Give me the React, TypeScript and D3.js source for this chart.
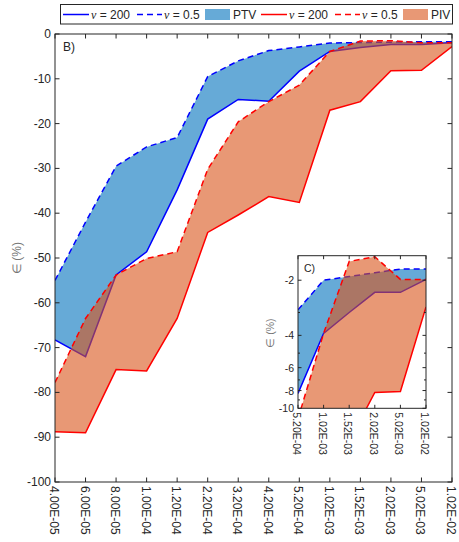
import React from 'react';
import * as d3 from 'd3';

const categories = ["4.00E-05","6.00E-05","8.00E-05","1.00E-04","1.20E-04","2.20E-04","3.20E-04","4.20E-04","5.20E-04","1.02E-03","1.52E-03","2.02E-03","5.02E-03","1.02E-02"];
const ptv200 = [-68.3,-72.0,-53.8,-48.6,-34.8,-19.0,-14.6,-15.0,-8.3,-3.9,-3.0,-2.33,-2.33,-1.98];
const ptv05 = [-55.0,-42.0,-29.5,-25.2,-23.1,-9.5,-6.0,-3.7,-2.9,-2.0,-1.91,-1.82,-1.74,-1.74];
const piv200 = [-88.8,-89.0,-74.9,-75.2,-63.5,-44.3,-40.4,-36.3,-37.6,-17.0,-15.1,-8.2,-8.1,-2.8];
const piv05 = [-77.8,-63.5,-53.8,-50.1,-48.6,-30.2,-19.6,-15.1,-11.4,-3.9,-1.58,-1.49,-1.98,-1.98];
const mainYTicks = [0,-10,-20,-30,-40,-50,-60,-70,-80,-90,-100];
const insetYTicks = [-2,-4,-6,-8,-10];
const insetMinor = [-3,-5,-7,-9];
const insetStart = 8;

const FONT = "'Liberation Sans', Arial, Helvetica, sans-serif";
const TXT = "#262626";
const BLUE_FILL = "rgb(0,114,189)";
const ORANGE_FILL = "rgb(217,83,25)";

export default function App() {
  const L = 55, R = 452, T = 34, B = 482;
  const x = d3.scalePoint<string>().domain(categories).range([L, R]).padding(0);
  const y = d3.scaleLinear().domain([-100, 0]).range([B, T]);

  const iL = 298, iR = 426, iT = 255.7, iB = 408.3;
  const icats = categories.slice(insetStart);
  const xi = d3.scalePoint<string>().domain(icats).range([iL, iR]).padding(0);
  const yiLog = d3.scaleLog().domain([1.47, 10]).range([iT, iB]);
  const yi = (v: number) => yiLog(-v);

  const idx = categories.map((_, i) => i);
  const iidx = icats.map((_, i) => i + insetStart);

  const mkArea = (up: number[], lo: number[], xs: (i: number) => number, ys: (v: number) => number) =>
    d3.area<number>().x(i => xs(i)).y0(i => ys(lo[i])).y1(i => ys(up[i]));
  const mkLine = (vals: number[], xs: (i: number) => number, ys: (v: number) => number) =>
    d3.line<number>().x(i => xs(i)).y(i => ys(vals[i]));

  const mx = (i: number) => x(categories[i]) as number;
  const ix = (i: number) => xi(categories[i]) as number;

  const drawSeries = (xs: (i: number) => number, ys: (v: number) => number, ids: number[]) => (
    <g>
      <path d={mkArea(ptv05, ptv200, xs, ys)(ids) || ''} fill={BLUE_FILL} fillOpacity={0.6} stroke="none" />
      <path d={mkLine(ptv200, xs, ys)(ids) || ''} fill="none" stroke="#0000ff" strokeWidth={1.5} />
      <path d={mkLine(ptv05, xs, ys)(ids) || ''} fill="none" stroke="#0000ff" strokeWidth={1.5} strokeDasharray="6,4" />
      <path d={mkArea(piv05, piv200, xs, ys)(ids) || ''} fill={ORANGE_FILL} fillOpacity={0.6} stroke="none" />
      <path d={mkLine(piv200, xs, ys)(ids) || ''} fill="none" stroke="#ff0000" strokeWidth={1.5} />
      <path d={mkLine(piv05, xs, ys)(ids) || ''} fill="none" stroke="#ff0000" strokeWidth={1.5} strokeDasharray="6,4" />
    </g>
  );

  const tl = 4.5;
  const itl = 3.5;

  // legend
  const ly = 14.5;
  const legendItems = [
    { type: 'line', color: '#0000ff', dash: '', x0: 63, x1: 89, tx: 91, label: '200' },
    { type: 'line', color: '#0000ff', dash: '6,4', x0: 137, x1: 162, tx: 164, label: '0.5' },
    { type: 'patch', color: BLUE_FILL, x0: 205, x1: 230, tx: 233, label: 'PTV' },
    { type: 'line', color: '#ff0000', dash: '', x0: 261, x1: 287, tx: 289, label: '200' },
    { type: 'line', color: '#ff0000', dash: '6,4', x0: 335, x1: 360, tx: 362, label: '0.5' },
    { type: 'patch', color: ORANGE_FILL, x0: 403, x1: 428, tx: 431, label: 'PIV' },
  ];

  return (
    <svg width={459} height={542} style={{ position: 'absolute', left: 0, top: 0 }} fontFamily={FONT}>
      <defs>
        <clipPath id="mainClip"><rect x={L} y={T} width={R - L} height={B - T} /></clipPath>
        <clipPath id="insetClip"><rect x={iL} y={iT} width={iR - iL} height={iB - iT} /></clipPath>
      </defs>
      <rect x={0} y={0} width={459} height={542} fill="#fff" />

      {/* main plot */}
      <g clipPath="url(#mainClip)">{drawSeries(mx, y, idx)}</g>
      <rect x={L} y={T} width={R - L} height={B - T} fill="none" stroke={TXT} strokeWidth={1} />
      {categories.map((c, i) => (
        <g key={c}>
          <line x1={mx(i)} x2={mx(i)} y1={B} y2={B - tl} stroke={TXT} />
          <line x1={mx(i)} x2={mx(i)} y1={T} y2={T + tl} stroke={TXT} />
          <text transform={`translate(${mx(i) - 1},${B + 4}) rotate(90)`} fontSize={12} fill={TXT} dominantBaseline="central" textAnchor="start">{c}</text>
        </g>
      ))}
      {mainYTicks.map(v => (
        <g key={v}>
          <line x1={L} x2={L + tl} y1={y(v)} y2={y(v)} stroke={TXT} />
          <line x1={R} x2={R - tl} y1={y(v)} y2={y(v)} stroke={TXT} />
          <text x={L - 4} y={y(v)} fontSize={12} fill={TXT} textAnchor="end" dominantBaseline="central">{v}</text>
        </g>
      ))}
      <text transform={`translate(17,258) rotate(-90)`} fontSize={12} fill="#777" textAnchor="middle" dominantBaseline="central">∈ (%)</text>
      <text x={63} y={51} fontSize={12} fill={TXT}>B)</text>

      {/* inset */}
      <rect x={iL} y={iT} width={iR - iL} height={iB - iT} fill="#fff" />
      <g clipPath="url(#insetClip)">{drawSeries(ix, yi, iidx)}</g>
      <rect x={iL} y={iT} width={iR - iL} height={iB - iT} fill="none" stroke={TXT} strokeWidth={1} />
      {icats.map((c, k) => {
        const i = k + insetStart;
        return (
          <g key={c}>
            <line x1={ix(i)} x2={ix(i)} y1={iB} y2={iB - itl} stroke={TXT} />
            <line x1={ix(i)} x2={ix(i)} y1={iT} y2={iT + itl} stroke={TXT} />
            <text transform={`translate(${ix(i) - 1},${iB + 4}) rotate(90)`} fontSize={10.5} fill={TXT} dominantBaseline="central" textAnchor="start">{c}</text>
          </g>
        );
      })}
      {insetYTicks.map(v => (
        <g key={v}>
          <line x1={iL} x2={iL + itl} y1={yi(v)} y2={yi(v)} stroke={TXT} />
          <line x1={iR} x2={iR - itl} y1={yi(v)} y2={yi(v)} stroke={TXT} />
          <text x={iL - 4} y={yi(v)} fontSize={10.5} fill={TXT} textAnchor="end" dominantBaseline="central">{v}</text>
        </g>
      ))}
      {insetMinor.map(v => (
        <g key={v}>
          <line x1={iL} x2={iL + 2} y1={yi(v)} y2={yi(v)} stroke={TXT} />
          <line x1={iR} x2={iR - 2} y1={yi(v)} y2={yi(v)} stroke={TXT} />
        </g>
      ))}
      <text transform={`translate(270,333) rotate(-90)`} fontSize={10.5} fill="#777" textAnchor="middle" dominantBaseline="central">∈ (%)</text>
      <text x={304} y={272} fontSize={10.5} fill={TXT}>C)</text>

      {/* legend */}
      <rect x={60.5} y={4.5} width={392} height={19.5} fill="#fff" stroke={TXT} strokeWidth={1} />
      {legendItems.map((it, k) => (
        <g key={k}>
          {it.type === 'line' ? (
            <line x1={it.x0} x2={it.x1} y1={ly} y2={ly} stroke={it.color} strokeWidth={1.5} strokeDasharray={it.dash || undefined} />
          ) : (
            <rect x={it.x0} y={ly - 5.5} width={it.x1 - it.x0} height={11} fill={it.color} fillOpacity={0.6} />
          )}
          {it.type === 'line' ? (
            <text x={it.tx} y={ly} fontSize={12} fill={TXT} dominantBaseline="central">
              <tspan fontStyle="italic" fontFamily="'Liberation Serif', 'Times New Roman', serif">ν</tspan> = {it.label}
            </text>
          ) : (
            <text x={it.tx} y={ly} fontSize={12} fill={TXT} dominantBaseline="central">{it.label}</text>
          )}
        </g>
      ))}
    </svg>
  );
}
